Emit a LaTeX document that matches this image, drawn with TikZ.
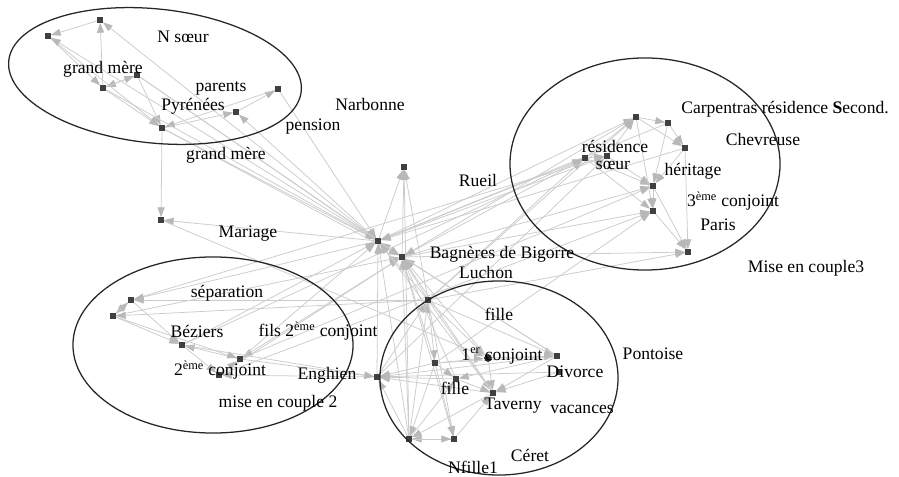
\documentclass[tikz,border=0pt]{standalone}
\usepackage{fontspec}
\setmainfont{Liberation Serif}
\usetikzlibrary{arrows.meta, backgrounds}
\tikzset{
    vertex/.style={rectangle, fill=black!75, inner sep=0pt, minimum size=3.6pt},
    rond/.style={circle, fill=black!85, inner sep=0pt, minimum size=5.5pt},
    link/.style={-{Triangle[length=7pt, width=5pt, color=black!28]}, draw=black!20, line width=0.55pt},
    lbl/.style={inner sep=0pt, font=\fontsize{12.5}{14}\selectfont},
    cluster/.style={draw=black!85, line width=0.9pt}
}

\begin{document}
\begin{tikzpicture}[x=0.025cm, y=-0.025cm]
    \useasboundingbox (0,0) rectangle (899,477);

    \node [vertex] (gmA) at (100,20) {};
    \node [vertex] (gmB) at (48,36) {};
    \node [vertex] (gmC) at (137,75) {};
    \node [vertex] (gmD) at (103,88) {};
    \node [vertex] (par) at (278,89) {};
    \node [vertex] (pyr) at (236,112) {};
    \node [vertex] (gmE) at (162,128) {};
    \node [vertex] (mar) at (161,220) {};
    \node [vertex] (nar) at (404,167) {};
    \node [vertex] (hubA) at (378,241) {};
    \node [vertex] (hubB) at (402,257) {};
    \node [vertex] (car) at (636,117) {};
    \node [vertex] (che) at (668,123) {};
    \node [vertex] (her) at (685,148) {};
    \node [vertex] (resA) at (585,158) {};
    \node [vertex] (resB) at (607,156) {};
    \node [vertex] (troi) at (653,186) {};
    \node [vertex] (pari) at (653,211) {};
    \node [vertex] (mise) at (688,252) {};
    \node [vertex] (sepA) at (131,300) {};
    \node [vertex] (sepB) at (113,316) {};
    \node [vertex] (bez) at (182,345) {};
    \node [vertex] (fils) at (240,359) {};
    \node [vertex] (conj) at (219,375) {};
    \node [vertex] (eng) at (377,377) {};
    \node [vertex] (luc) at (428,300) {};
    \node [vertex] (filA) at (435,363) {};
    \node [rond] (prem) at (488,358) {};
    \node [vertex] (divA) at (557,356) {};
    \node [vertex] (divB) at (559,372) {};
    \node [vertex] (filB) at (456,379) {};
    \node [vertex] (tav) at (493,393) {};
    \node [vertex] (nfA) at (409,439) {};
    \node [vertex] (nfB) at (454,439) {};

    \begin{scope}[on background layer]
    \foreach \a/\b in {gmA/gmB, gmD/gmA, gmB/gmD, gmC/gmD, gmD/gmC, gmB/gmE, gmD/gmE, gmC/gmE,
        gmE/pyr, pyr/par, par/gmE, gmE/mar, hubA/gmA, hubA/gmB, gmC/hubA, gmD/hubA, gmE/hubA,
        hubA/pyr, par/hubA, gmE/hubB, gmC/hubB, hubA/mar, mar/prem, hubA/nar, hubB/nar, luc/nar, nfA/nar,
        hubA/resA, resB/hubA, hubA/car, hubB/resA, hubB/troi, hubB/pari, hubB/mise, che/hubA,
        luc/resA, luc/car, luc/mise, eng/resB, bez/resA, sepA/resB, fils/troi, conj/pari, filA/pari,
        her/hubA, car/hubB, resA/car, resB/car, car/che, che/her, car/her, resA/troi, resB/troi,
        resA/pari, her/troi, troi/pari, che/troi, troi/mise, pari/mise, her/mise, resA/resB, car/pari,
        hubA/sepA, sepB/hubB, luc/sepA, luc/sepB, sepA/sepB, sepB/sepA, sepA/bez, sepB/bez,
        bez/conj, conj/fils, fils/bez, bez/hubA, hubB/fils, conj/hubB, eng/conj, bez/eng, fils/eng,
        sepB/fils, fils/hubA, eng/hubA, divA/eng, filA/eng, filB/eng, tav/eng, nfA/eng, eng/luc, divB/eng,
        luc/filA, luc/prem, luc/divA, luc/tav, nfA/luc, luc/nfB, filA/hubB, divA/hubB, tav/hubB,
        nfA/hubB, nfB/hubB, filB/hubB, nfA/hubA, tav/hubA, divA/hubA, filA/prem, filA/filB, filA/divA,
        prem/tav, prem/divA, divA/tav, divB/tav, filB/tav, nfB/nfA, nfA/nfB, nfB/tav, tav/nfA,
        filA/nfA, filA/nfB, divA/filB, nfA/filB, luc/hubA, luc/hubB, hubA/hubB, prem/hubB}
        \draw [link] (\a) -- (\b);
    \end{scope}

    \draw [cluster, rotate around={-6:(155,76)}] (155,76) ellipse [x radius=3.675cm, y radius=1.675cm];
    \draw [cluster] (645,164) ellipse [x radius=3.375cm, y radius=2.65cm];
    \draw [cluster] (213,345) ellipse [x radius=3.5cm, y radius=2.2cm];
    \draw [cluster] (499,378) ellipse [x radius=2.975cm, y radius=2.425cm];

    \node [lbl] (tNsoeur) at (183,37) {N sœur};
    \node [lbl] (tGm) at (103,69) {grand mère};
    \node [lbl] (tParents) at (221,88) {parents};
    \node [lbl] (tPyr) at (193,106) {Pyrénées};
    \node [lbl] (tPension) at (313,127) {pension};
    \node [lbl] (tGmBis) at (226,155) {grand mère};
    \node [lbl] (tNarb) at (370,104) {Narbonne};
    \node [lbl] (tRueil) at (478,180) {Rueil};
    \node [lbl] (tBag) at (502,254) {Bagnères de Bigorre};
    \node [lbl] (tLuchon) at (486,272) {Luchon};
    \node [lbl] (tCarp) at (785,109) {Carpentras résidence {\bfseries S}econd.};
    \node [lbl] (tChev) at (763,139) {Chevreuse};
    \node [lbl] (tRes) at (615,146) {résidence};
    \node [lbl] (tSoeur) at (613,165) {sœur};
    \node [lbl] (tHer) at (693,171) {héritage};
    \node [lbl] (tTroi) at (733,201) {3\textsuperscript{ème} conjoint};
    \node [lbl] (tParis) at (718,225) {Paris};
    \node [lbl] (tMise) at (806,268) {Mise en couple3};
    \node [lbl] (tMar) at (248,234) {Mariage};
    \node [lbl] (tSep) at (227,293) {séparation};
    \node [lbl] (tBez) at (197,331) {Béziers};
    \node [lbl] (tFils) at (318,331) {fils 2\textsuperscript{ème} conjoint};
    \node [lbl] (tConj) at (220,370) {2\textsuperscript{ème} conjoint};
    \node [lbl] (tEng) at (327,375) {Enghien};
    \node [lbl] (tMiseBis) at (278,403) {mise en couple 2};
    \node [lbl] (tFille) at (499,314) {fille};
    \node [lbl] (tPrem) at (502,356) {1\textsuperscript{er} conjoint};
    \node [lbl] (tPont) at (653,354) {Pontoise};
    \node [lbl] (tDiv) at (575,372) {Divorce};
    \node [lbl] (tFilleBis) at (455,388) {fille};
    \node [lbl] (tTav) at (513,406) {Taverny};
    \node [lbl] (tVac) at (582,409) {vacances};
    \node [lbl] (tCeret) at (530,455) {Céret};
    \node [lbl] (tNfille) at (473,467) {Nfille1};
\end{tikzpicture}
\end{document}
